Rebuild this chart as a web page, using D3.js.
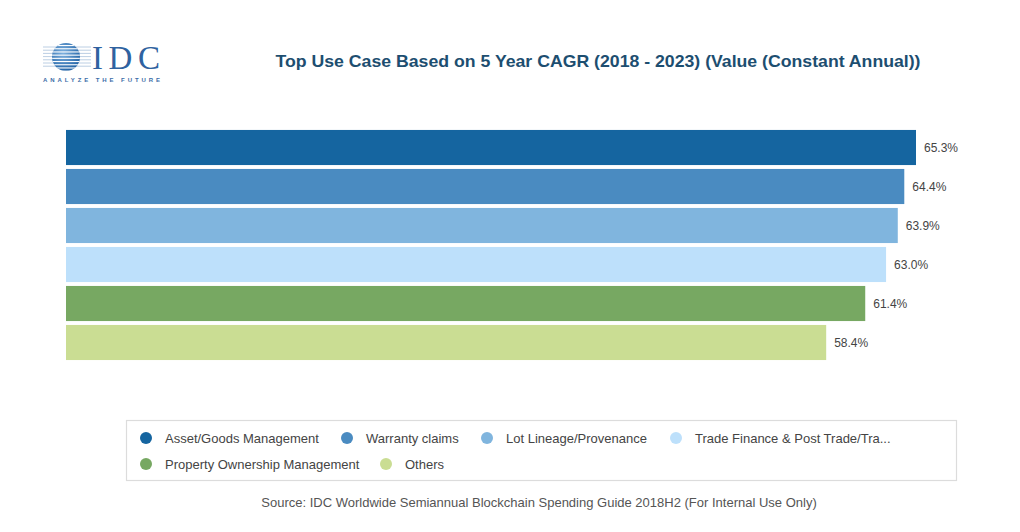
<!DOCTYPE html>
<html>
<head>
<meta charset="utf-8">
<script src="https://cdn.jsdelivr.net/npm/d3@7"></script>
<style>
  html, body { margin: 0; padding: 0; background: #fff; }
  svg { display: block; font-family: "Liberation Sans", Arial, sans-serif; }
</style>
</head>
<body>
<svg id="chart" width="1020" height="532"></svg>
<script>
const categories = [
  "Asset/Goods Management",
  "Warranty claims",
  "Lot Lineage/Provenance",
  "Trade Finance & Post Trade/Tra...",
  "Property Ownership Management",
  "Others"
];
const values = [65.3, 64.4, 63.9, 63.0, 61.4, 58.4];
const valueLabels = ["65.3%", "64.4%", "63.9%", "63.0%", "61.4%", "58.4%"];
const colors = ["#1565a0", "#4a8bc1", "#80b5de", "#bde0fb", "#77a862", "#cadd93"];
const titleText = "Top Use Case Based on 5 Year CAGR (2018 - 2023) (Value (Constant Annual))";
const sourceText = "Source: IDC Worldwide Semiannual Blockchain Spending Guide 2018H2 (For Internal Use Only)";

const svg = d3.select("#chart");

// Logo
const logo = svg.append("g").attr("class", "logo");
const cx = 66, cy = 57, r = 14;
const defs = svg.append("defs");
defs.append("clipPath").attr("id", "sphere")
  .append("circle").attr("cx", cx).attr("cy", cy).attr("r", r);
const grad = defs.append("radialGradient").attr("id", "sg")
  .attr("cx", "40%").attr("cy", "35%").attr("r", "70%");
grad.append("stop").attr("offset", "0%").attr("stop-color", "#7fb2e0");
grad.append("stop").attr("offset", "100%").attr("stop-color", "#1d5fa3");
logo.selectAll("line.ext").data(d3.range(-10, 12, 3.2)).join("line")
  .attr("x1", 43).attr("x2", 91).attr("y1", d => cy + d).attr("y2", d => cy + d)
  .attr("stroke", "#a9c1dc").attr("stroke-width", 0.8);
logo.append("circle").attr("cx", cx).attr("cy", cy).attr("r", r).attr("fill", "url(#sg)");
logo.selectAll("rect.stripe").data(d3.range(-r, r, 3.2)).join("rect")
  .attr("x", cx - r).attr("y", d => cy + d + 2).attr("width", 2 * r).attr("height", 1.1)
  .attr("fill", "#fff").attr("clip-path", "url(#sphere)");
logo.append("text").attr("x", 92).attr("y", 69)
  .attr("font-family", "'Liberation Serif', 'DejaVu Serif', serif")
  .attr("font-size", 33).attr("fill", "#2f62a0").attr("textLength", 68)
  .text("IDC");
logo.append("text").attr("x", 43).attr("y", 82)
  .attr("font-size", 6).attr("font-weight", "bold").attr("fill", "#3c6da8")
  .attr("textLength", 117).attr("lengthAdjust", "spacing")
  .text("ANALYZE THE FUTURE");

// Title
svg.append("text").attr("x", 598).attr("y", 67).attr("text-anchor", "middle")
  .attr("font-size", 17).attr("font-weight", "bold").attr("fill", "#1d4e70")
  .attr("textLength", 645).attr("lengthAdjust", "spacingAndGlyphs")
  .text(titleText);

// Scales
const x = d3.scaleLinear().domain([0, 70]).range([66, 66 + 70 * (850 / 65.3)]);
const y = d3.scaleBand().domain(categories).range([128, 362]).paddingInner(0.1).paddingOuter(0.05);

const bars = svg.append("g");
bars.selectAll("rect").data(categories).join("rect")
  .attr("x", x(0))
  .attr("y", d => y(d))
  .attr("width", (d, i) => x(values[i]) - x(0))
  .attr("height", y.bandwidth())
  .attr("fill", (d, i) => colors[i]);

bars.selectAll("text").data(categories).join("text")
  .attr("x", (d, i) => x(values[i]) + 8)
  .attr("y", d => y(d) + y.bandwidth() / 2)
  .attr("dy", "0.35em")
  .attr("font-size", 12).attr("fill", "#444")
  .text((d, i) => valueLabels[i]);

// Legend
svg.append("rect").attr("x", 126.5).attr("y", 420.5).attr("width", 830).attr("height", 60)
  .attr("fill", "#fff").attr("stroke", "#dcdcdc").attr("stroke-width", 1.2);
const legendPos = [
  [146, 438], [347, 438], [487, 438], [676, 438],
  [146, 464], [386, 464]
];
const leg = svg.append("g").selectAll("g").data(categories).join("g")
  .attr("transform", (d, i) => `translate(${legendPos[i][0]},${legendPos[i][1]})`);
leg.append("circle").attr("r", 6).attr("fill", (d, i) => colors[i]);
leg.append("text").attr("x", 19).attr("dy", "0.35em")
  .attr("font-size", 13).attr("fill", "#444").text(d => d);

// Source
svg.append("text").attr("x", 539).attr("y", 507).attr("text-anchor", "middle")
  .attr("font-size", 13).attr("fill", "#555").text(sourceText);
</script>
</body>
</html>
